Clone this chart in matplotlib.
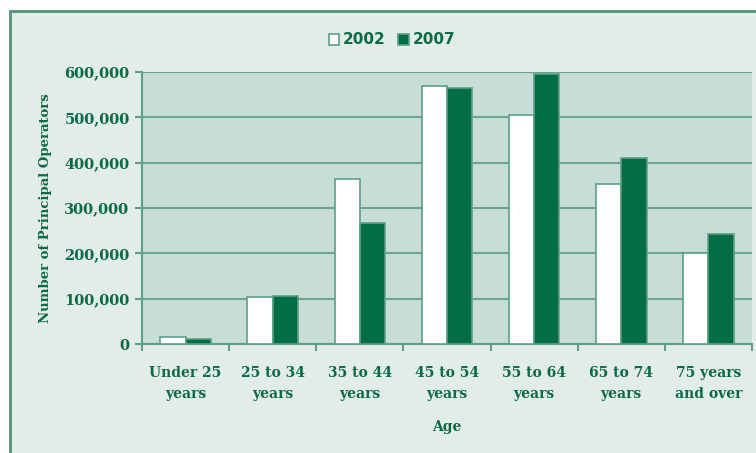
import matplotlib
matplotlib.use("Agg")
import matplotlib.pyplot as plt
import matplotlib.patches as mpatches
import numpy as np

categories = ["Under 25\nyears", "25 to 34\nyears", "35 to 44\nyears", "45 to 54\nyears",
              "55 to 64\nyears", "65 to 74\nyears", "75 years\nand over"]
values_2002 = [15500, 104500, 364000, 570000, 506000, 353000, 201000]
values_2007 = [12000, 106000, 268000, 564000, 596000, 411000, 243000]
series_labels = ["2002", "2007"]
yticks = [0, 100000, 200000, 300000, 400000, 500000, 600000]

W, H = 756, 453
fig = plt.figure(figsize=(W / 100, H / 100), dpi=100)
fig.patch.set_facecolor("white")

txt = "#0b6b43"
dark = "#036e44"
edge = "#5e9f85"
outer_bg = "#e2ece8"
plot_bg = "#c7ddd7"

# outer frame
frame = mpatches.Rectangle((10 / W, -0.05), 1.2, 1.05 - 11 / H, transform=fig.transFigure,
                           facecolor=outer_bg, edgecolor="#4f9474", linewidth=2, zorder=-5)
fig.patches.append(frame)

ax = fig.add_axes([142 / W, 1 - 344 / H, (752 - 142) / W, (344 - 72) / H])
ax.set_zorder(2)
ax.set_facecolor(plot_bg)

x = np.arange(len(categories))
bw = 0.29
ax.bar(x - bw / 2, values_2002, bw, color="white", edgecolor=edge, linewidth=1.2,
       label=series_labels[0], zorder=3)
ax.bar(x + bw / 2, values_2007, bw, color=dark, edgecolor=edge, linewidth=1.2,
       label=series_labels[1], zorder=3)

ax.set_xlim(-0.5, len(categories) - 0.5)
ax.set_ylim(0, 600000)
ax.set_yticks(yticks)
ax.set_yticklabels([f"{v:,}" for v in yticks], fontfamily="DejaVu Serif",
                   fontweight="bold", fontsize=10.5, color=txt)
ax.yaxis.grid(True, color="#6aa58c", linewidth=1.5, zorder=1)
ax.set_axisbelow(True)

ax.set_xticks(np.arange(-0.5, len(categories), 1.0))
ax.set_xticklabels([])
ax.set_xticks(x, minor=True)
ax.set_xticklabels(categories, minor=True, fontfamily="DejaVu Serif", fontsize=10,
                   fontweight="bold", color=txt, linespacing=1.6)
ax.tick_params(axis="x", which="minor", length=0, pad=16)
ax.tick_params(axis="x", which="major", length=5, width=1.5, color=edge)
ax.tick_params(axis="y", length=5, width=1.5, color=edge, pad=4)

for s in ["top", "right"]:
    ax.spines[s].set_visible(False)
for s in ["left", "bottom"]:
    ax.spines[s].set_color(edge)
    ax.spines[s].set_linewidth(1.5)

ax.set_xlabel("Age", fontfamily="DejaVu Serif", fontweight="bold", fontsize=10,
              color=txt, labelpad=14)
ax.set_ylabel("Number of Principal Operators", fontfamily="DejaVu Serif",
              fontweight="bold", fontsize=9.5, color=txt, labelpad=9)

leg = fig.legend(loc="center", bbox_to_anchor=(392 / W, 1 - 40 / H), ncol=2, frameon=False,
                 handlelength=0.7, handleheight=0.7, handletextpad=0.25, columnspacing=0.8,
                 prop={"family": "DejaVu Sans", "weight": "bold", "size": 11})
for t in leg.get_texts():
    t.set_color(txt)

fig.savefig("out.png", dpi=100, facecolor=fig.get_facecolor())
